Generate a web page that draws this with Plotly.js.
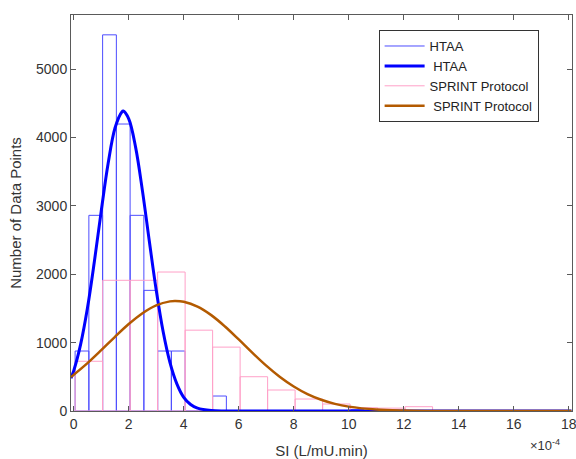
<!DOCTYPE html>
<html>
<head>
<meta charset="utf-8">
<script src="https://cdn.plot.ly/plotly-3.0.1.min.js"></script>
<style>html,body{margin:0;padding:0;background:#fff;}#chart{width:576px;height:459px;}</style>
</head>
<body>
<div id="chart"></div>
<script>
// Histogram: HTAA (bin width 0.5e-4), values in units of 1e-4
const htaaBinCenters = [0.3, 0.8, 1.3, 1.8, 2.3, 2.8, 3.3, 3.8, 4.3, 4.8, 5.3, 10.3];
const htaaCounts     = [877, 2861, 5500, 4196, 2861, 1764, 877, 877, 0, 0, 219, 20];
const htaaBinWidth = 0.5;

// Histogram: SPRINT Protocol (bin width 1e-4)
const sprintBinCenters = [0.55, 1.55, 2.55, 3.55, 4.55, 5.55, 6.55, 7.55, 8.55, 9.55, 10.55, 11.55, 12.55];
const sprintCounts     = [727, 1911, 1911, 2032, 1182, 934, 501, 307, 175, 102, 48, 42, 63];
const sprintBinWidth = 1.0;

// Fitted curves
const htaaCurveX = [-0.1, 0, 0.25, 0.5, 0.75, 1.0, 1.25, 1.5, 1.75, 1.8, 2.0, 2.25, 2.5, 2.75, 3.0, 3.25, 3.5, 3.75, 4.0, 4.25, 4.5, 5.0, 5.5, 6, 8, 10, 12, 14, 16, 18.1];
const htaaCurveY = [480, 590, 975, 1510, 2185, 2925, 3618, 4138, 4373, 4385, 4271, 3855, 3215, 2478, 1765, 1162, 707, 397, 200, 95, 42, 7, 1, 0, 0, 0, 0, 0, 0, 0];

const sprintCurveX = [-0.1, 0.5, 1.0, 1.5, 2.0, 2.5, 3.0, 3.5, 3.7, 4.0, 4.5, 5.0, 5.5, 6.0, 6.5, 7.0, 7.5, 8.0, 8.5, 9.0, 9.5, 10.0, 11.0, 12.0, 13.0, 14.0, 16.0, 18.1];
const sprintCurveY = [497, 700, 889, 1085, 1271, 1430, 1545, 1603, 1608, 1596, 1526, 1402, 1236, 1046, 850, 663, 497, 358, 247, 164, 104, 64, 21, 6, 1, 0, 0, 0];

const legendNames = ['HTAA', ' HTAA', 'SPRINT Protocol', ' SPRINT Protocol'];
const xTickVals = [0, 2, 4, 6, 8, 10, 12, 14, 16, 18];
const yTickVals = [0, 1000, 2000, 3000, 4000, 5000];

const FONT = 'Liberation Sans, Arial, sans-serif';
const txt = '#333333';
const htaaBarColor = '#4d4dff';
const sprintBarColor = '#ffa0c8';

const traces = [
  {
    type: 'bar', x: htaaBinCenters, y: htaaCounts, width: htaaBinWidth,
    showlegend: false,
    marker: {color: 'rgba(0,0,0,0)', line: {color: htaaBarColor, width: 1}},
    hoverinfo: 'skip'
  },
  {
    type: 'bar', x: sprintBinCenters, y: sprintCounts, width: sprintBinWidth,
    showlegend: false,
    marker: {color: 'rgba(0,0,0,0)', line: {color: sprintBarColor, width: 1}},
    hoverinfo: 'skip'
  },
  // legend entry for HTAA histogram (drawn as a thin line, like the reference)
  {
    type: 'scatter', mode: 'lines', x: [null], y: [null],
    name: legendNames[0], line: {color: htaaBarColor, width: 1}
  },
  {
    type: 'scatter', mode: 'lines', x: htaaCurveX, y: htaaCurveY,
    name: legendNames[1],
    line: {color: '#0000ff', width: 3, shape: 'spline'}
  },
  // legend entry for SPRINT histogram
  {
    type: 'scatter', mode: 'lines', x: [null], y: [null],
    name: legendNames[2], line: {color: sprintBarColor, width: 1}
  },
  {
    type: 'scatter', mode: 'lines', x: sprintCurveX, y: sprintCurveY,
    name: legendNames[3],
    line: {color: '#b35a00', width: 2.5, shape: 'spline'}
  }
];

const axisCommon = {
  showgrid: false, zeroline: false, showline: true, mirror: 'ticks',
  linecolor: '#5a5a5a', linewidth: 1,
  ticks: 'inside', ticklen: 5, tickcolor: '#5a5a5a',
  tickfont: {family: FONT, size: 14, color: txt}
};

const layout = {
  width: 576, height: 459,
  margin: {l: 71, r: 4, t: 15, b: 48},
  paper_bgcolor: '#ffffff', plot_bgcolor: '#ffffff',
  barmode: 'overlay',
  showlegend: true,
  xaxis: Object.assign({}, axisCommon, {
    range: [-0.1, 18.12], tickvals: xTickVals,
    ticklabeloverflow: 'allow',
    title: {text: 'SI (L/mU.min)', font: {family: FONT, size: 15, color: txt}, standoff: 16}
  }),
  yaxis: Object.assign({}, axisCommon, {
    range: [0, 5790], tickvals: yTickVals,
    title: {text: 'Number of Data Points', font: {family: FONT, size: 15, color: txt}, standoff: 10}
  }),
  legend: {
    x: 0.614, y: 0.962, xanchor: 'left', yanchor: 'top',
    bordercolor: '#333333', borderwidth: 1, bgcolor: '#ffffff',
    font: {family: FONT, size: 13, color: '#222'},
    tracegroupgap: 0, itemwidth: 40
  },
  annotations: [{
    xref: 'paper', yref: 'paper', x: 0.981, y: -0.086, xanchor: 'right', yanchor: 'middle',
    text: '×10<sup>-4</sup>', showarrow: false,
    font: {family: FONT, size: 13, color: txt}
  }]
};

Plotly.newPlot('chart', traces, layout, {displayModeBar: false, staticPlot: true});
</script>
</body>
</html>
